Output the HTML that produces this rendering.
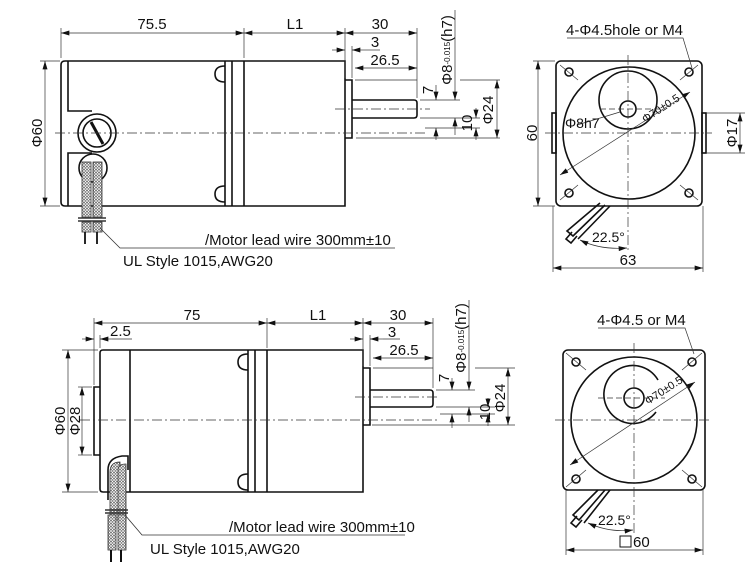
<!DOCTYPE html>
<html><head><meta charset="utf-8"><style>
html,body{margin:0;padding:0;background:#fff}
svg{display:block}
text{font-family:"Liberation Sans",Arial,sans-serif;fill:#111}
</style></head><body>
<svg width="750" height="572" viewBox="0 0 750 572" xmlns="http://www.w3.org/2000/svg">
<defs>
<marker id="a" viewBox="0 0 10 6" refX="10" refY="3" markerWidth="9" markerHeight="5" orient="auto-start-reverse" markerUnits="userSpaceOnUse"><path d="M0,0 L10,3 L0,6z" fill="#111"/></marker>
<pattern id="br" width="3" height="3" patternUnits="userSpaceOnUse"><rect width="3" height="3" fill="#fff"/><circle cx="1.5" cy="1.5" r="1" fill="none" stroke="#333" stroke-width="0.6"/></pattern>
</defs>
<g fill="none" stroke="#111" stroke-width="1.6">
<path d="M65,61 H345 V206 H65 Q61,206 61,202 V65 Q61,61 65,61z"/>
<path d="M68,61 V111 H92 M92,153 H68 V206"/>
<circle cx="97" cy="133" r="19"/><circle cx="97" cy="133" r="14"/>
<line x1="91" y1="122" x2="103" y2="144" stroke-width="3"/>
<line x1="225" y1="61" x2="225" y2="206"/><line x1="232" y1="61" x2="232" y2="206"/><line x1="244" y1="61" x2="244" y2="206"/>
<path d="M225,66 q-10,0 -10,8 q0,8 10,8" /><path d="M225,186 q-10,0 -10,8 q0,8 10,8"/>
<path d="M345,80 H352 V138 H345"/>
<path d="M352,100 H414 Q417,100 417,103 V115 Q417,118 414,118 H352"/>
<circle cx="93" cy="168" r="14"/>
</g>
<g stroke="#333" stroke-width="0.8">
<rect x="82" y="162" width="9" height="55" fill="url(#br)"/><rect x="93" y="162" width="9" height="55" fill="url(#br)"/>
<rect x="82" y="222" width="9" height="10" fill="url(#br)"/><rect x="93" y="222" width="9" height="10" fill="url(#br)"/>
<line x1="78" y1="218" x2="106" y2="218" stroke-width="1.4"/><line x1="78" y1="221" x2="106" y2="221" stroke-width="1.4"/>
<line x1="85" y1="232" x2="85" y2="244" stroke-width="1.8" stroke="#111"/><line x1="97" y1="232" x2="97" y2="244" stroke-width="1.8" stroke="#111"/>
<polyline points="100,228 120,248 395,248" fill="none"/>
</g>
<g stroke="#333" stroke-width="0.7" fill="none">
<line x1="55" y1="133" x2="425" y2="133" stroke-dasharray="10,3,2,3"/>
<line x1="335" y1="109" x2="430" y2="109" stroke-dasharray="10,3,2,3"/>
<line x1="61" y1="28" x2="61" y2="58"/><line x1="244" y1="28" x2="244" y2="58"/><line x1="345" y1="28" x2="345" y2="78"/><line x1="417" y1="28" x2="417" y2="98"/><line x1="352" y1="46" x2="352" y2="78"/>
<line x1="61" y1="33" x2="244" y2="33" marker-start="url(#a)" marker-end="url(#a)"/>
<line x1="244" y1="33" x2="345" y2="33" marker-start="url(#a)" marker-end="url(#a)"/>
<line x1="345" y1="33" x2="417" y2="33" marker-start="url(#a)" marker-end="url(#a)"/>
<line x1="332" y1="50" x2="345" y2="50" marker-end="url(#a)"/><line x1="365" y1="50" x2="352" y2="50" marker-end="url(#a)"/><line x1="365" y1="50" x2="380" y2="50"/>
<line x1="355" y1="68" x2="417" y2="68" marker-start="url(#a)" marker-end="url(#a)"/>
<line x1="355" y1="80" x2="417" y2="80"/>
<line x1="40" y1="61" x2="60" y2="61"/><line x1="40" y1="206" x2="60" y2="206"/>
<line x1="45" y1="61" x2="45" y2="206" marker-start="url(#a)" marker-end="url(#a)"/>
<line x1="420" y1="100" x2="460" y2="100"/><line x1="420" y1="118" x2="480" y2="118"/><line x1="425" y1="128" x2="480" y2="128"/>
<line x1="356" y1="138" x2="500" y2="138"/><line x1="460" y1="80" x2="500" y2="80"/>
<line x1="436" y1="85" x2="436" y2="100" marker-end="url(#a)"/><line x1="436" y1="140" x2="436" y2="128" marker-end="url(#a)"/>
<line x1="455" y1="10" x2="455" y2="100" marker-end="url(#a)"/><line x1="455" y1="135" x2="455" y2="118" marker-end="url(#a)"/>
<line x1="476" y1="108" x2="476" y2="118" marker-end="url(#a)"/><line x1="476" y1="140" x2="476" y2="128" marker-end="url(#a)"/>
<line x1="497" y1="80" x2="497" y2="138" marker-start="url(#a)" marker-end="url(#a)"/>
</g>
<g font-size="15">
<text x="152" y="29" text-anchor="middle">75.5</text>
<text x="295" y="29" text-anchor="middle">L1</text>
<text x="380" y="29" text-anchor="middle">30</text>
<text x="375" y="47" text-anchor="middle">3</text>
<text x="385" y="65" text-anchor="middle">26.5</text>
<text transform="translate(42,133) rotate(-90)" text-anchor="middle">Φ60</text>
<text transform="translate(433,90) rotate(-90)" text-anchor="middle">7</text>
<text transform="translate(452,50) rotate(-90)" text-anchor="middle">Φ8<tspan font-size="8" dy="-2">-0.015</tspan><tspan font-size="15" dy="2">(h7)</tspan></text>
<text transform="translate(472,123) rotate(-90)" text-anchor="middle">10</text>
<text transform="translate(493,110) rotate(-90)" text-anchor="middle">Φ24</text>
<text x="205" y="245">/Motor lead wire 300mm±10</text>
<text x="123" y="266">UL Style 1015,AWG20</text>
</g>

<g fill="none" stroke="#111" stroke-width="1.6">
<rect x="556" y="61" width="146" height="145" rx="5"/>
<rect x="552" y="113" width="4" height="40"/><rect x="702" y="113" width="4" height="40"/>
<circle cx="629" cy="133" r="66"/>
<circle cx="628" cy="100" r="29"/>
<circle cx="628" cy="109" r="8"/>
<circle cx="569" cy="72" r="4"/><circle cx="689" cy="72" r="4"/><circle cx="569" cy="193" r="4"/><circle cx="689" cy="193" r="4"/>
<path d="M605,205 L573,236 L567,231 L600,203 M610,206 L578,239 M572,232 l-6,7 l5,4 l6,-7"/>
</g>
<g stroke="#333" stroke-width="0.7" fill="none">
<line x1="545" y1="133" x2="712" y2="133" stroke-dasharray="10,3,2,3"/>
<line x1="628" y1="55" x2="628" y2="250" stroke-dasharray="10,3,2,3"/>
<line x1="600" y1="109" x2="660" y2="109" stroke-dasharray="6,3"/>
<line x1="560" y1="175" x2="690" y2="92" marker-start="url(#a)" marker-end="url(#a)"/>
<line x1="560" y1="65" x2="578" y2="80"/><line x1="680" y1="185" x2="698" y2="200"/><line x1="560" y1="200" x2="578" y2="185"/><line x1="680" y1="80" x2="698" y2="65"/>
<polyline points="567,38 683,38 692,68"/>
<line x1="577" y1="125" x2="620" y2="112"/>
<line x1="533" y1="61" x2="555" y2="61"/><line x1="533" y1="206" x2="555" y2="206"/>
<line x1="538" y1="61" x2="538" y2="206" marker-start="url(#a)" marker-end="url(#a)"/>
<line x1="706" y1="113" x2="745" y2="113"/><line x1="706" y1="153" x2="745" y2="153"/>
<line x1="740" y1="113" x2="740" y2="153" marker-start="url(#a)" marker-end="url(#a)"/>
<line x1="553" y1="206" x2="553" y2="272"/><line x1="703" y1="206" x2="703" y2="272"/>
<line x1="553" y1="268" x2="703" y2="268" marker-start="url(#a)" marker-end="url(#a)"/>
<path d="M580,240 Q600,250 627,248" marker-start="url(#a)" marker-end="url(#a)"/>
</g>
<g font-size="15">
<text x="566" y="35">4-Φ4.5hole or M4</text>
<text transform="translate(537,133) rotate(-90)" text-anchor="middle">60</text>
<text transform="translate(737,133) rotate(-90)" text-anchor="middle">Φ17</text>
<text x="565" y="128" font-size="14">Φ8h7</text>
<text transform="translate(645,123) rotate(-33)" font-size="11">Φ70±0.5</text>
<text x="592" y="242" font-size="14">22.5°</text>
<text x="628" y="265" text-anchor="middle">63</text>
</g>

<g fill="none" stroke="#111" stroke-width="1.6">
<path d="M103,350 H363 V492 H103 Q100,492 100,489 V353 Q100,350 103,350z"/>
<path d="M100,387 H94 V455 H100"/>
<line x1="130" y1="350" x2="130" y2="492"/>
<line x1="248" y1="350" x2="248" y2="492"/><line x1="255" y1="350" x2="255" y2="492"/><line x1="267" y1="350" x2="267" y2="492"/>
<path d="M248,354 q-10,0 -10,8 q0,8 10,8"/><path d="M248,474 q-10,0 -10,8 q0,8 10,8"/>
<path d="M363,368 H370 V425 H363"/>
<path d="M370,390 H430 Q433,390 433,393 V404 Q433,407 430,407 H370"/>
<path d="M108,500 V470 Q108,458 122,456 H128 V470"/>
</g>
<g stroke="#333" stroke-width="0.8">
<path d="M110,520 V472 Q110,462 120,462 V520z" fill="url(#br)"/>
<path d="M118,520 V470 Q118,464 126,464 V520z" fill="url(#br)"/>
<line x1="105" y1="510" x2="128" y2="510" stroke-width="1.4"/><line x1="105" y1="513" x2="128" y2="513" stroke-width="1.4"/>
<rect x="108" y="515" width="8" height="35" fill="url(#br)"/><rect x="118" y="515" width="8" height="35" fill="url(#br)"/>
<line x1="111" y1="550" x2="111" y2="562" stroke-width="2" stroke="#111"/><line x1="121" y1="550" x2="121" y2="562" stroke-width="2" stroke="#111"/>
<polyline points="125,515 142,535 405,535" fill="none"/>
</g>
<g stroke="#333" stroke-width="0.7" fill="none">
<line x1="80" y1="420" x2="440" y2="420" stroke-dasharray="10,3,2,3"/>
<line x1="355" y1="397" x2="440" y2="397" stroke-dasharray="10,3,2,3"/>
<line x1="94" y1="318" x2="94" y2="385"/><line x1="100" y1="335" x2="100" y2="348"/><line x1="267" y1="318" x2="267" y2="348"/><line x1="363" y1="318" x2="363" y2="366"/><line x1="433" y1="318" x2="433" y2="388"/><line x1="370" y1="335" x2="370" y2="366"/>
<line x1="94" y1="323" x2="267" y2="323" marker-start="url(#a)" marker-end="url(#a)"/>
<line x1="267" y1="323" x2="363" y2="323" marker-start="url(#a)" marker-end="url(#a)"/>
<line x1="363" y1="323" x2="433" y2="323" marker-start="url(#a)" marker-end="url(#a)"/>
<line x1="82" y1="339" x2="94" y2="339" marker-end="url(#a)"/><line x1="112" y1="339" x2="100" y2="339" marker-end="url(#a)"/><line x1="112" y1="339" x2="132" y2="339"/>
<line x1="350" y1="339" x2="363" y2="339" marker-end="url(#a)"/><line x1="383" y1="339" x2="370" y2="339" marker-end="url(#a)"/><line x1="383" y1="339" x2="400" y2="339"/>
<line x1="373" y1="358" x2="433" y2="358" marker-start="url(#a)" marker-end="url(#a)"/>
<line x1="373" y1="368" x2="433" y2="368"/>
<line x1="62" y1="350" x2="98" y2="350"/><line x1="62" y1="492" x2="98" y2="492"/>
<line x1="68" y1="350" x2="68" y2="492" marker-start="url(#a)" marker-end="url(#a)"/>
<line x1="78" y1="387" x2="92" y2="387"/><line x1="78" y1="455" x2="92" y2="455"/>
<line x1="82" y1="387" x2="82" y2="455" marker-start="url(#a)" marker-end="url(#a)"/>
<line x1="436" y1="390" x2="475" y2="390"/><line x1="436" y1="407" x2="495" y2="407"/><line x1="440" y1="414" x2="495" y2="414"/>
<line x1="372" y1="425" x2="515" y2="425"/><line x1="475" y1="368" x2="515" y2="368"/>
<line x1="452" y1="378" x2="452" y2="390" marker-end="url(#a)"/><line x1="452" y1="428" x2="452" y2="414" marker-end="url(#a)"/>
<line x1="469" y1="300" x2="469" y2="390" marker-end="url(#a)"/><line x1="469" y1="422" x2="469" y2="407" marker-end="url(#a)"/>
<line x1="488" y1="398" x2="488" y2="407" marker-end="url(#a)"/><line x1="488" y1="426" x2="488" y2="414" marker-end="url(#a)"/>
<line x1="508" y1="368" x2="508" y2="425" marker-start="url(#a)" marker-end="url(#a)"/>
</g>
<g font-size="15">
<text x="192" y="320" text-anchor="middle">75</text>
<text x="110" y="336">2.5</text>
<text x="318" y="320" text-anchor="middle">L1</text>
<text x="398" y="320" text-anchor="middle">30</text>
<text x="392" y="337" text-anchor="middle">3</text>
<text x="404" y="355" text-anchor="middle">26.5</text>
<text transform="translate(65,421) rotate(-90)" text-anchor="middle">Φ60</text>
<text transform="translate(80,421) rotate(-90)" text-anchor="middle">Φ28</text>
<text transform="translate(449,378) rotate(-90)" text-anchor="middle">7</text>
<text transform="translate(466,338) rotate(-90)" text-anchor="middle">Φ8<tspan font-size="8" dy="-2">-0.015</tspan><tspan font-size="15" dy="2">(h7)</tspan></text>
<text transform="translate(490,412) rotate(-90)" text-anchor="middle">10</text>
<text transform="translate(505,398) rotate(-90)" text-anchor="middle">Φ24</text>
<text x="229" y="532">/Motor lead wire 300mm±10</text>
<text x="150" y="554">UL Style 1015,AWG20</text>
</g>

<g fill="none" stroke="#111" stroke-width="1.6">
<rect x="563" y="350" width="142" height="140" rx="5"/>
<circle cx="634" cy="420" r="63"/>
<path d="M656,412 A29,29 0 1 1 658,380"/>
<circle cx="634" cy="398" r="10"/>
<circle cx="576" cy="362" r="4"/><circle cx="692" cy="362" r="4"/><circle cx="576" cy="479" r="4"/><circle cx="692" cy="479" r="4"/>
<path d="M605,490 L579,520 L573,515 L598,490 M610,490 L584,523 M577,516 l-6,7 l5,4 l6,-7"/>
</g>
<g stroke="#333" stroke-width="0.7" fill="none">
<line x1="555" y1="420" x2="712" y2="420" stroke-dasharray="10,3,2,3"/>
<line x1="634" y1="343" x2="634" y2="535" stroke-dasharray="10,3,2,3"/>
<line x1="598" y1="398" x2="665" y2="398" stroke-dasharray="6,3"/>
<line x1="570" y1="465" x2="695" y2="382" marker-start="url(#a)" marker-end="url(#a)"/>
<line x1="566" y1="353" x2="586" y2="370"/><line x1="682" y1="470" x2="702" y2="487"/><line x1="566" y1="487" x2="586" y2="470"/><line x1="682" y1="370" x2="702" y2="353"/>
<polyline points="598,328 685,328 694,354"/>
<line x1="566" y1="490" x2="566" y2="555"/><line x1="703" y1="490" x2="703" y2="555"/>
<line x1="566" y1="550" x2="703" y2="550" marker-start="url(#a)" marker-end="url(#a)"/>
<path d="M588,523 Q610,533 633,530" marker-start="url(#a)" marker-end="url(#a)"/>
</g>
<g font-size="15">
<text x="597" y="325">4-Φ4.5 or M4</text>
<text transform="translate(648,405) rotate(-33)" font-size="11">Φ70±0.5</text>
<text x="598" y="525" font-size="14">22.5°</text>
<rect x="620" y="536" width="11" height="11" fill="none" stroke="#111" stroke-width="1"/>
<text x="633" y="547">60</text>
</g>
</svg>
</body></html>
